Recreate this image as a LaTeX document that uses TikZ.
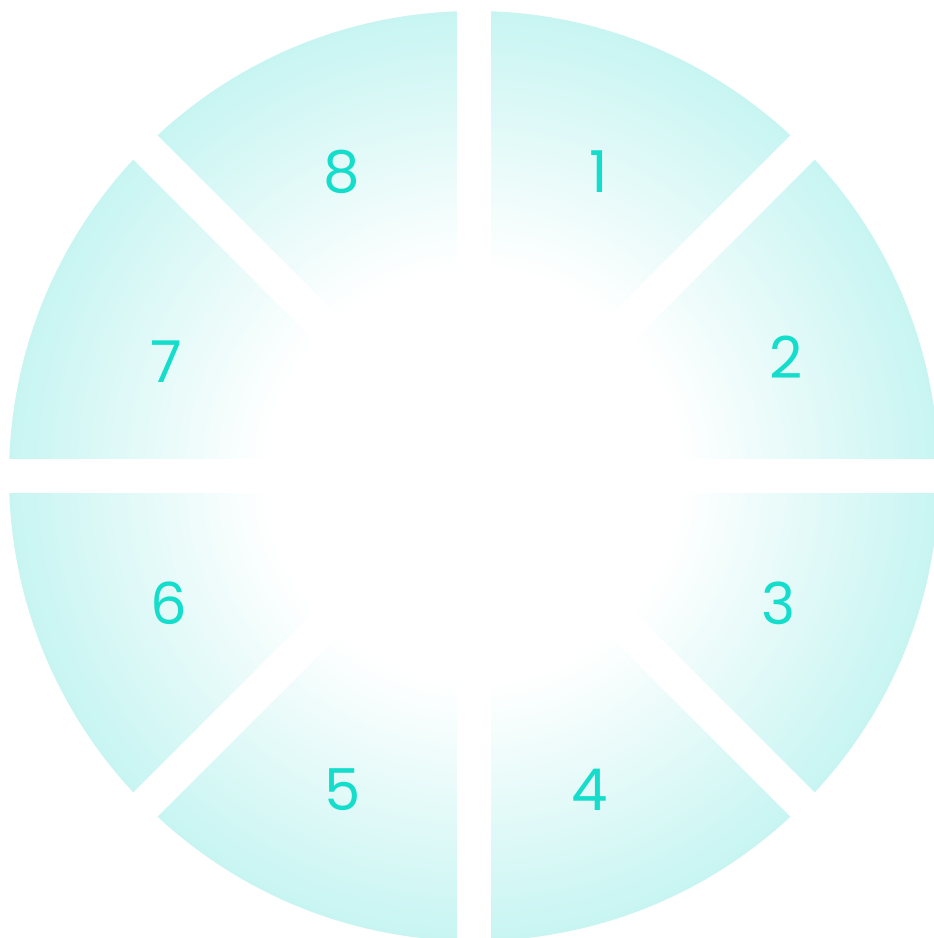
\documentclass[tikz,border=0pt]{standalone}
\usepackage{fontspec}
\setmainfont{Poppins}
\usetikzlibrary{calc}
\definecolor{cRim}{HTML}{C8F5F2}
\definecolor{cDigit}{HTML}{14DECB}

\begin{document}
\begin{tikzpicture}[x=1bp,y=1bp,
    gapline/.style={white,line width=34bp},
    digit/.style={text=cDigit,font=\fontsize{58}{60}\selectfont,inner sep=0pt}]
  \useasboundingbox (0,0) rectangle (934,938);
  \clip (0,0) rectangle (934,938);
  \coordinate (c) at (474,462);
  % disc fading to white towards the middle, in thin rings
  \foreach \k in {0,...,64} {
    \pgfmathsetmacro\rr{465-4*\k}
    \pgfmathsetmacro\pp{max(0,(\rr-210)/2.55)}
    \fill[cRim!\pp!white] (c) circle (\rr bp);
  }
  % white cuts between the sectors
  \foreach \a in {0,45,90,135}
    \draw[gapline] ($(c)+(\a:480)$) -- ($(c)+(\a+180:480)$);
  % sector numbers, clockwise from the top
  \foreach \i/\x/\y in {1/599/766, 2/786/581, 3/779/335, 4/590/148,
                        5/343/148, 6/169/335, 7/166/576, 8/342/766}
    \node[digit] (s\i) at (\x,\y) {\i};
\end{tikzpicture}
\end{document}
